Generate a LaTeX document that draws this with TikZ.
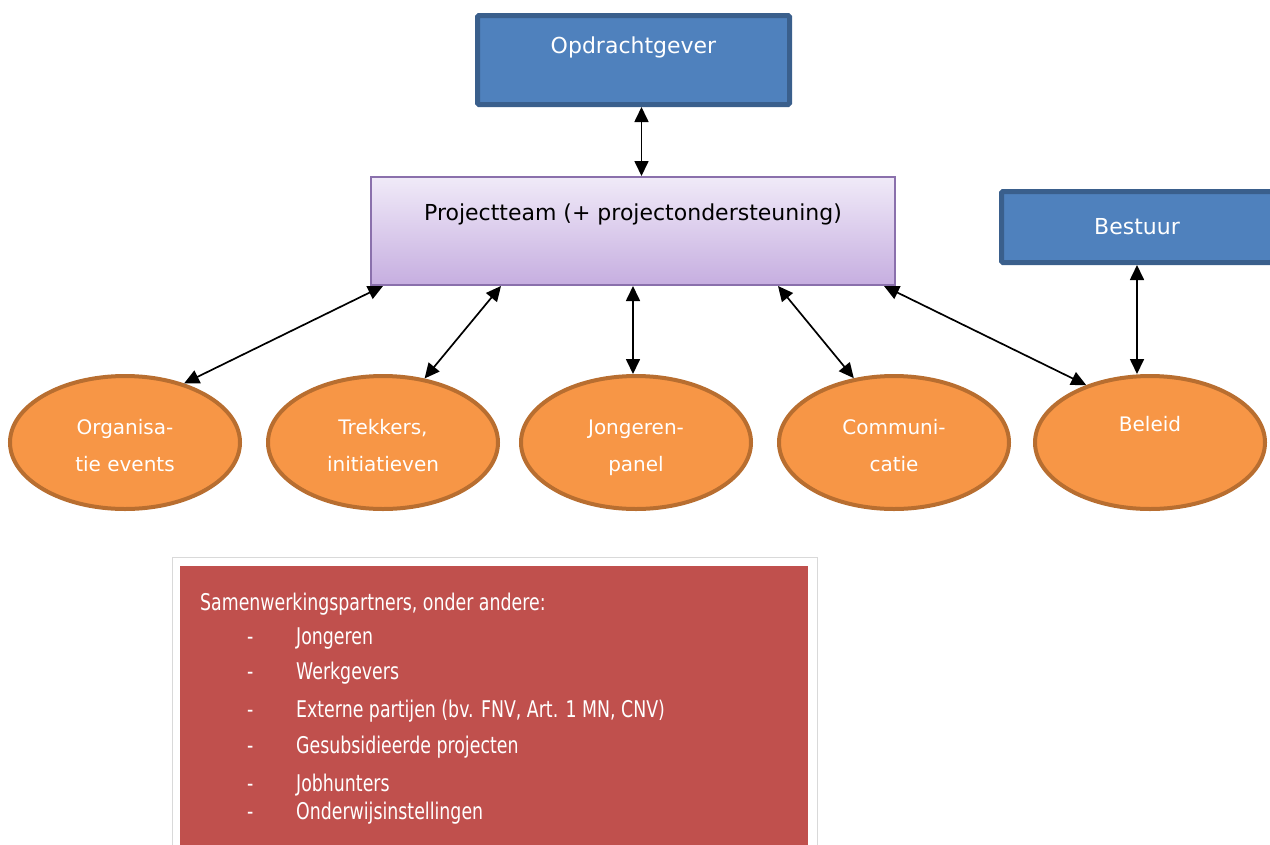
\documentclass[tikz,border=0pt]{standalone}
\usepackage{fontspec}
\setmainfont{DejaVu Sans}
\newfontfamily\condfont[FakeStretch=0.755]{DejaVu Sans}
\usetikzlibrary{arrows.meta,shapes.geometric,calc}
\definecolor{bluefill}{HTML}{4F81BD}
\definecolor{blueline}{HTML}{3A5F8C}
\definecolor{purpline}{HTML}{8A70AC}
\definecolor{purptop}{HTML}{F0EAF8}
\definecolor{purpbot}{HTML}{C6AEE0}
\definecolor{orfill}{HTML}{F79646}
\definecolor{orline}{HTML}{B86E30}
\definecolor{redfill}{HTML}{C0504D}
\newcommand{\topstrut}{\rule{0pt}{28pt}}
\newcommand{\botstrut}{\rule[-8pt]{0pt}{8pt}}
\begin{document}
\begin{tikzpicture}[x=1pt,y=-1pt,
 bluebox/.style={draw=blueline,fill=bluefill,line width=5pt,rounded corners=1.5pt,inner sep=0pt,text=white,font=\fontsize{22}{26}\selectfont},
 teambox/.style={draw=purpline,top color=purptop,bottom color=purpbot,line width=2pt,inner sep=0pt,text=black,font=\fontsize{22}{26}\selectfont},
 oval/.style={ellipse,draw=orline,fill=orfill,line width=4pt,inner sep=0pt,minimum width=230pt,minimum height=133pt,text=white,align=center,font=\fontsize{20}{37}\selectfont},
 dbl/.style={line width=1.7pt,{Triangle[length=15pt,width=14pt]}-{Triangle[length=15pt,width=14pt]}},
]
\useasboundingbox (0,0) rectangle (1270,844);

\node[bluebox,minimum width=312pt,minimum height=89pt,text height=16pt,text depth=30pt] (opd) at (633.5,60) {Opdrachtgever};
\node[teambox,minimum width=524pt,minimum height=108pt,text height=16pt,text depth=38pt] (pt) at (633,231) {Projectteam (+ projectondersteuning)};
\node[bluebox,minimum width=271pt,minimum height=71pt] (bes) at (1137,227) {Bestuur};

\node[oval] (org) at (125,442.5) {\topstrut Organisa-\\tie events\botstrut};
\node[oval] (tre) at (383,442.5) {\topstrut Trekkers,\\initiatieven\botstrut};
\node[oval] (jon) at (636,442.5) {\topstrut Jongeren-\\panel\botstrut};
\node[oval] (com) at (894,442.5) {\topstrut Communi-\\catie\botstrut};
\node[oval,text height=16pt,text depth=38pt] (bel) at (1150,442.5) {Beleid};

\draw[dbl] ([xshift=8pt]opd.south) -- ([xshift=8pt]opd.south |- pt.north);
\draw[dbl] ([xshift=-250pt]pt.south) -- (org.45);
\draw[dbl] ([xshift=-132pt]pt.south) -- (tre.57);
\draw[dbl] (pt.south) -- (pt.south |- jon.north);
\draw[dbl] ([xshift=145pt]pt.south) -- (com.122);
\draw[dbl] ([xshift=251pt]pt.south) -- (bel.138);
\draw[dbl] (bes.south) -- (bes.south |- bel.north);

\node[draw=black!15,fill=white,line width=1pt,minimum width=645pt,minimum height=300pt,anchor=north west] (sh) at (172,557) {};
\node[fill=redfill,inner sep=0pt,minimum width=628pt,minimum height=290pt,anchor=north west] (rb) at (180,566) {};
\node[anchor=north west,align=left,text=white,inner sep=0pt,font=\condfont\fontsize{23}{34}\selectfont] (rt) at (200,593) {Samenwerkingspartners, onder andere:\\
\hspace*{47pt}\makebox[49pt][l]{-}Jongeren\\[1pt]
\hspace*{47pt}\makebox[49pt][l]{-}Werkgevers\\[4pt]
\hspace*{47pt}\makebox[49pt][l]{-}Externe partijen (bv. FNV, Art. 1 MN, CNV)\\[2pt]
\hspace*{47pt}\makebox[49pt][l]{-}Gesubsidieerde projecten\\[4pt]
\hspace*{47pt}\makebox[49pt][l]{-}Jobhunters\\[-6pt]
\hspace*{47pt}\makebox[49pt][l]{-}Onderwijsinstellingen};
\end{tikzpicture}
\end{document}
